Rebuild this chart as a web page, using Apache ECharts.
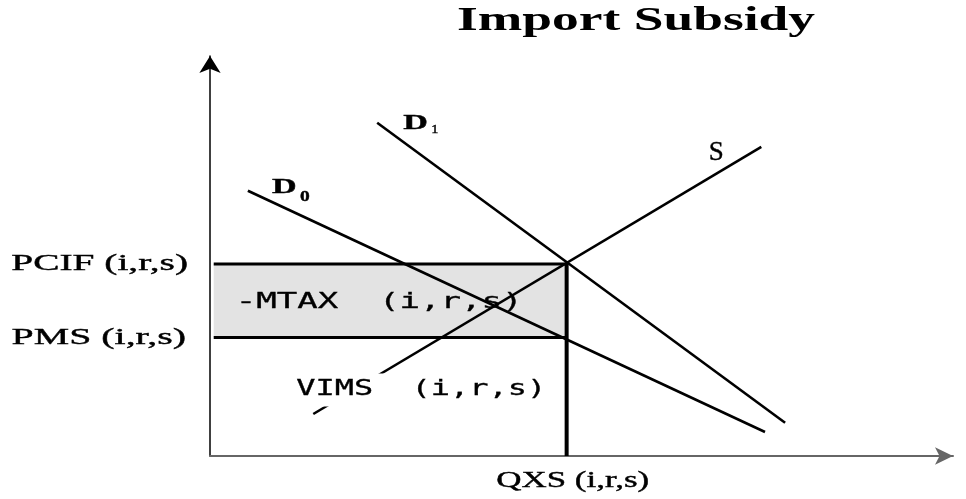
<!DOCTYPE html>
<html>
<head>
<meta charset="utf-8">
<title>Import Subsidy</title>
<script src="https://cdn.jsdelivr.net/npm/echarts@6/dist/echarts.min.js"></script>
<style>
  html, body { margin: 0; padding: 0; background: #fff; }
  #main { width: 966px; height: 499px; }
</style>
</head>
<body>
<div id="main"></div>
<script>
// curve end points, quantity / price units of the diagram (0-100 on each axis)
const demandD0 = [[5.1, 66.3], [74.7, 6.0]];
const demandD1 = [[22.5, 83.3], [77.4, 8.3]];
const supplyS = [[13.9, 10.5], [74.2, 77.3]];
// equilibrium quantity and the two prices
const qxs = 48;
const pcif = 48;
const pms = 29.6;
const qStart = 0.5; // price lines start just right of the axis

const titleText = 'Import Subsidy';
const priceLabels = ['PCIF (i,r,s)', 'PMS (i,r,s)'];
const qtyLabel = 'QXS (i,r,s)';
const areaLabel = '-MTAX  (i,r,s)';
const valueLabel = 'VIMS  (i,r,s)';
const curveNames = ['D', '0', 'D', '1', 'S'];

const SERIF = "'Liberation Serif', 'Times New Roman', serif";
const MONO = "'DejaVu Sans Mono', monospace";

const chart = echarts.init(document.getElementById('main'));

function line (name, data, width) {
  return {
    name: name,
    type: 'line',
    data: data,
    symbol: 'none',
    silent: true,
    z: 3,
    lineStyle: { color: '#000', width: width }
  };
}

const hiddenAxis = {
  type: 'value',
  min: 0,
  max: 100,
  splitLine: { show: false },
  axisTick: { show: false },
  axisLabel: { show: false }
};

chart.setOption({
  animation: false,
  backgroundColor: '#fff',
  grid: { left: 210, right: 13, top: 56, bottom: 43 },
  xAxis: Object.assign({}, hiddenAxis, {
    axisLine: {
      symbol: ['none', 'arrow'],
      symbolSize: [13, 18],
      lineStyle: { color: '#666', width: 2 }
    }
  }),
  yAxis: Object.assign({}, hiddenAxis, {
    axisLine: {
      symbol: ['none', 'arrow'],
      symbolSize: [16, 17],
      lineStyle: { color: '#000', width: 1.5 }
    }
  }),
  series: [
    {
      // shaded subsidy area between the two prices
      type: 'custom',
      z: 1,
      silent: true,
      data: [[qStart, pms, qxs, pcif]],
      renderItem: function (params, api) {
        const a = api.coord([api.value(0), api.value(3)]);
        const b = api.coord([api.value(2), api.value(1)]);
        return {
          type: 'rect',
          shape: { x: a[0], y: a[1], width: b[0] - a[0], height: b[1] - a[1] },
          style: { fill: '#e3e3e3' }
        };
      }
    },
    line('PCIF', [[qStart, pcif], [qxs, pcif]], 3),
    line('PMS', [[qStart, pms], [qxs, pms]], 3),
    line('QXS', [[qxs, 0], [qxs, pcif]], 4),
    line('D0', demandD0, 2.6),
    line('D1', demandD1, 2.6),
    line('S', supplyS, 2.6)
  ]
});

// labels, placed from data points and stretched like the original
const at = (x, y) => chart.convertToPixel({ gridIndex: 0 }, [x, y]);

function text (str, p, dx, dy, font, align, sx, extra) {
  return {
    type: 'text',
    x: p[0] + dx,
    y: p[1] + dy,
    scaleX: sx,
    z: (extra && extra.z) || 20,
    silent: true,
    style: Object.assign({
      text: str,
      font: font,
      fill: '#000',
      stroke: '#000',
      lineWidth: 0.4,
      align: align,
      verticalAlign: 'middle'
    }, extra && extra.style)
  };
}

const origin = at(0, 0);
const d0 = at(demandD0[0][0], demandD0[0][1]);
const d1 = at(demandD1[0][0], demandD1[0][1]);
const sTop = at(supplyS[1][0], supplyS[1][1]);
const sLow = at(supplyS[0][0], supplyS[0][1]);
const pcifPx = at(0, pcif);
const pmsPx = at(0, pms);
const qPx = at(qxs, 0);
const midPx = at(qStart, (pcif + pms) / 2);

chart.setOption({
  graphic: [
    text(titleText, [636, 21], 0, 0, 'bold 33px ' + SERIF, 'center', 1.62, { style: { lineWidth: 0 } }),
    text(priceLabels[0], pcifPx, -22, 0, '24px ' + SERIF, 'right', 1.64),
    text(priceLabels[1], pmsPx, -24, 0, '24px ' + SERIF, 'right', 1.66),
    text(qtyLabel, [qPx[0], origin[1]], 6, 25, '23px ' + SERIF, 'center', 1.52),
    text(areaLabel, midPx, 22, 2, '21px ' + MONO, 'left', 1.62, { z: 2, style: { lineWidth: 0.3 } }),
    text(valueLabel, sLow, -20, -24, '21px ' + MONO, 'left', 1.52, {
      style: { backgroundColor: '#fff', padding: [6, 2], lineWidth: 0.3 }
    }),
    text(curveNames[0], d0, 24, -3, 'bold 22px ' + SERIF, 'left', 1.55),
    text(curveNames[1], d0, 52, 6, 'bold 15px ' + SERIF, 'left', 1.3),
    text(curveNames[2], d1, 26, 1, 'bold 22px ' + SERIF, 'left', 1.55),
    text(curveNames[3], d1, 54, 7, '13px ' + SERIF, 'left', 1.1),
    text(curveNames[4], sTop, -45, 6, '27px ' + SERIF, 'center', 1.0)
  ]
});
</script>
</body>
</html>
